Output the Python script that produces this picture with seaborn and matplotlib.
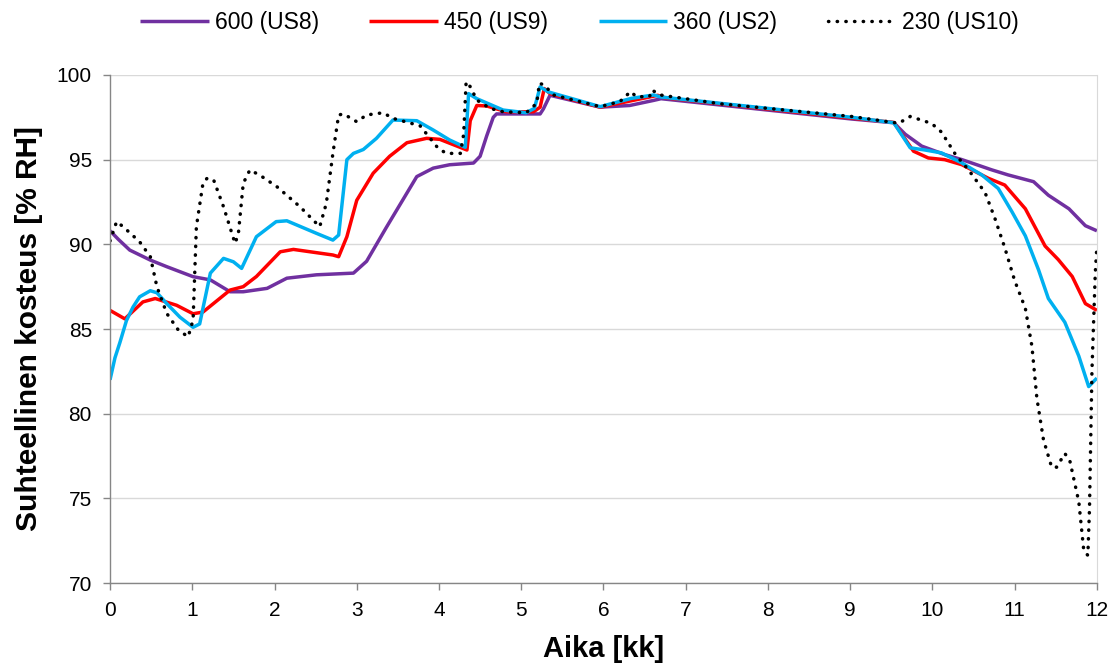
import matplotlib
matplotlib.use("Agg")
import matplotlib.pyplot as plt
import seaborn as sns
import pandas as pd

# ---- data ----
x600 = [0, 0.1, 0.24, 0.49, 0.69, 1.01, 1.22, 1.46, 1.62, 1.91, 2.15, 2.51, 2.96, 3.12, 3.36, 3.73, 3.93,
        4.13, 4.42, 4.50, 4.58, 4.66, 4.70, 5.23, 5.27, 5.35, 5.96, 6.32, 6.61, 6.7, 9.02, 9.53, 9.67, 9.87,
        10.15, 10.36, 10.72, 10.92, 11.23, 11.41, 11.66, 11.86, 12.0]
y600 = [90.8, 90.3, 89.66, 89.07, 88.68, 88.09, 87.9, 87.2, 87.2, 87.4, 88.0, 88.2, 88.3, 89.0, 91.0, 94.0, 94.5,
        94.7, 94.8, 95.2, 96.4, 97.5, 97.7, 97.7, 98.0, 98.8, 98.1, 98.2, 98.5, 98.6, 97.4, 97.18, 96.5, 95.8,
        95.3, 95.0, 94.4, 94.1, 93.7, 92.9, 92.1, 91.1, 90.8]

x450 = [0, 0.18, 0.40, 0.55, 0.81, 1.01, 1.13, 1.46, 1.62, 1.78, 2.07, 2.23, 2.71, 2.78, 2.88, 3.0, 3.2, 3.4,
        3.61, 3.85, 4.01, 4.34, 4.38, 4.46, 4.58, 4.82, 5.15, 5.23, 5.28, 5.35, 5.96, 6.36, 6.66, 6.75, 9.02,
        9.53, 9.77, 9.95, 10.15, 10.36, 10.68, 10.88, 11.13, 11.37, 11.53, 11.70, 11.86, 12.0]
y450 = [86.1, 85.6, 86.6, 86.8, 86.4, 85.9, 86.0, 87.3, 87.5, 88.1, 89.56, 89.7, 89.37, 89.27, 90.45, 92.6, 94.2, 95.2,
        96.0, 96.26, 96.2, 95.57, 97.3, 98.2, 98.17, 97.83, 97.83, 98.1, 99.2, 98.9, 98.1, 98.5, 98.8, 98.65, 97.45,
        97.2, 95.5, 95.1, 95.0, 94.7, 93.9, 93.5, 92.1, 89.9, 89.1, 88.1, 86.5, 86.1]

x360 = [0, 0.06, 0.12, 0.2, 0.28, 0.36, 0.49, 0.57, 0.69, 0.85, 1.01, 1.09, 1.22, 1.38, 1.50, 1.60, 1.78, 2.02,
        2.15, 2.51, 2.71, 2.78, 2.88, 2.96, 3.08, 3.24, 3.44, 3.73, 3.93, 4.13, 4.32, 4.36, 4.46, 4.78, 5.06,
        5.16, 5.23, 5.33, 5.96, 6.34, 6.61, 6.7, 9.02, 9.53, 9.73, 9.91, 10.11, 10.36, 10.60, 10.80, 10.97,
        11.13, 11.29, 11.41, 11.61, 11.78, 11.90, 12.0]
y360 = [82.0, 83.3, 84.2, 85.5, 86.3, 86.9, 87.26, 87.14, 86.5, 85.7, 85.1, 85.3, 88.3, 89.17, 88.97, 88.58, 90.45, 91.34,
        91.39, 90.65, 90.25, 90.55, 95.0, 95.37, 95.6, 96.26, 97.34, 97.3, 96.75, 96.16, 95.73, 98.9, 98.6, 97.93, 97.77,
        98.03, 99.3, 99.0, 98.13, 98.62, 98.82, 98.7, 97.5, 97.18, 95.7, 95.57, 95.4, 94.8, 94.1, 93.3, 91.9,
        90.5, 88.5, 86.8, 85.4, 83.4, 81.6, 82.1]

x230 = [0, 0.08, 0.16, 0.36, 0.49, 0.57, 0.69, 0.83, 0.95, 1.01, 1.05, 1.13, 1.18, 1.26, 1.38, 1.52, 1.56, 1.62,
        1.70, 1.82, 2.03, 2.31, 2.55, 2.63, 2.71, 2.78, 2.84, 3.0, 3.12, 3.32, 3.44, 3.77, 3.99, 4.09, 4.26, 4.30,
        4.33, 4.38, 4.46, 4.62, 4.78, 5.06, 5.19, 5.22, 5.28, 5.39, 5.96, 6.2, 6.33, 6.40, 6.56, 6.59, 6.69, 7.42,
        9.02, 9.59, 9.73, 9.99, 10.11, 10.28, 10.44, 10.64, 10.76, 10.88, 11.0, 11.13, 11.21, 11.27, 11.35, 11.45,
        11.51, 11.61, 11.67, 11.78, 11.84, 11.89, 11.91, 11.94, 11.98, 12.0]
y230 = [90.2, 91.34, 91.04, 90.15, 89.27, 87.5, 85.92, 84.94, 84.54, 85.53, 91.04, 93.6, 93.9, 93.8, 92.22, 90.06, 90.6, 93.6,
        94.39, 94.09, 93.4, 92.22, 91.04, 92.42, 95.37, 97.64, 97.7, 97.24, 97.64, 97.77, 97.44, 97.0, 95.67, 95.37, 95.37, 96.5,
        99.6, 99.31, 98.52, 98.03, 97.83, 97.77, 98.33, 99.51, 99.41, 98.82, 98.13, 98.43, 99.02, 98.72, 98.72, 99.11, 98.82, 98.3,
        97.55, 97.15, 97.55, 97.14, 96.63, 95.31, 94.39, 93.06, 91.53, 89.8, 87.86, 86.22, 83.98, 80.92, 78.47, 76.84,
        76.84, 77.65, 77.24, 74.8, 71.94, 71.63, 74.39, 82.55, 88.27, 89.9]

labels = ["600 (US8)", "450 (US9)", "360 (US2)", "230 (US10)"]
xticks = list(range(0, 13))
yticks = [70, 75, 80, 85, 90, 95, 100]

sns.set_style("white")
plt.rcParams['font.family'] = ['Liberation Sans', 'DejaVu Sans']
plt.rcParams['text.color'] = 'black'
plt.rcParams['axes.labelcolor'] = 'black'

fig = plt.figure(figsize=(11.17, 6.66), dpi=100)
ax = fig.add_axes([0.0985, 0.1246, 0.8835, 0.7628])

series = [(x600, y600, "#7030A0", "-"), (x450, y450, "#FF0000", "-"),
          (x360, y360, "#00B0F0", "-"), (x230, y230, "black", (0, (0.1, 2.4)))]
for (xs, ys, c, ls), lab in zip(series, labels):
    df = pd.DataFrame({"x": xs, "y": ys})
    sns.lineplot(data=df, x="x", y="y", ax=ax, color=c, linewidth=2.5, estimator=None, sort=False,
                 label=lab, linestyle=ls, dash_capstyle="round", solid_capstyle="butt")

ax.set_xlim(0, 12)
ax.set_ylim(70, 100)
ax.set_xticks(xticks)
ax.set_yticks(yticks)
ax.yaxis.grid(True, color="#D9D9D9", linewidth=1.0)
ax.set_axisbelow(True)
ax.spines["top"].set_visible(False)
ax.spines["right"].set_color("#D9D9D9")
ax.spines["left"].set_color("#868686")
ax.spines["bottom"].set_color("#868686")
ax.spines["left"].set_linewidth(1.0)
ax.spines["bottom"].set_linewidth(1.0)
ax.tick_params(axis="both", which="both", direction="out", length=5, width=1, color="#868686",
               labelsize=15, labelcolor="black", bottom=True, left=True, pad=8)
ax.set_xlabel("Aika [kk]", fontsize=21, fontweight="bold", labelpad=11)
ax.set_ylabel("Suhteellinen kosteus [% RH]", fontsize=21.5, fontweight="bold", labelpad=10)

ax.legend(loc="center", bbox_to_anchor=(0.519, 0.966), bbox_transform=fig.transFigure, ncol=4, frameon=False,
          fontsize=16.5, handlelength=3.0, handletextpad=0.26, columnspacing=2.2)

fig.savefig("out.png", dpi=100)
